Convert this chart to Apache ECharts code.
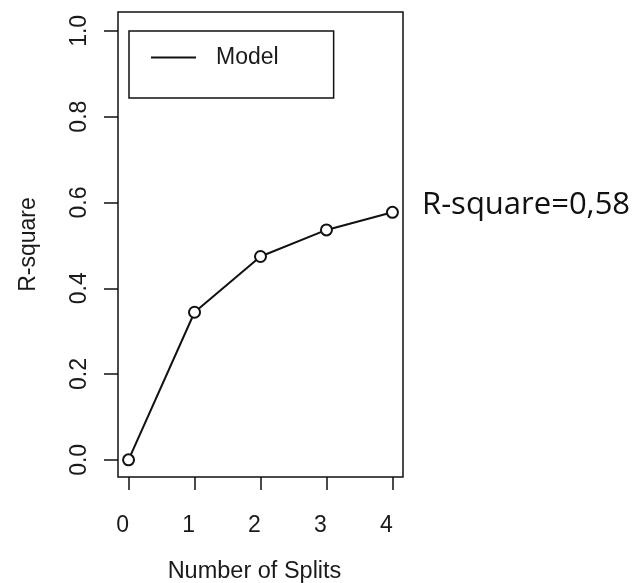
<!DOCTYPE html>
<html>
<head>
<meta charset="utf-8">
<script src="https://cdn.jsdelivr.net/npm/echarts@6/dist/echarts.min.js"></script>
<style>
    html, body { margin: 0; padding: 0; background: #fff; }
    #chart { width: 637px; height: 583px; }
</style>
</head>
<body>
<div id="chart"></div>
<script>
// data
var splits = [0, 1, 2, 3, 4];
var rsquare = [0.0, 0.344, 0.474, 0.536, 0.577];
var xTicks = [0, 1, 2, 3, 4];
var yTicks = [0, 0.2, 0.4, 0.6, 0.8, 1.0];
var seriesName = 'Model';
var note = 'R-square=0,58';

var fontFamily = '"Liberation Sans", Arial, sans-serif';

var chart = echarts.init(document.getElementById('chart'));

var points = splits.map(function (s, i) { return [s, rsquare[i]]; });

var option = {
    backgroundColor: '#fff',
    animation: false,
    grid: {
        left: 118,
        right: 234,
        top: 12,
        bottom: 106,
        outerBoundsMode: 'none',
        containLabel: false,
        show: true,
        borderColor: '#111',
        borderWidth: 1.5,
        backgroundColor: 'transparent'
    },
    legend: {
        left: 129,
        top: 31,
        orient: 'vertical',
        padding: [15, 55, 29, 22],
        borderColor: '#111',
        borderWidth: 1.5,
        borderRadius: 0,
        itemWidth: 45,
        itemHeight: 2,
        icon: 'rect',
        textStyle: {
            fontFamily: fontFamily,
            fontSize: 23,
            color: '#1a1a1a',
            padding: [0, 0, 0, 15]
        },
        data: [seriesName]
    },
    xAxis: {
        type: 'value',
        min: -0.16,
        max: 4.16,
        name: 'Number of Splits',
        nameLocation: 'middle',
        nameGap: 83,
        nameTextStyle: { fontFamily: fontFamily, fontSize: 23.5, color: '#1a1a1a', padding: [0, 12, 0, 0] },
        axisLine: { show: false, onZero: false },
        splitLine: { show: false },
        axisTick: {
            show: true,
            length: 13,
            customValues: xTicks,
            lineStyle: { color: '#111', width: 1.5 }
        },
        axisLabel: {
            customValues: xTicks,
            margin: 37,
            fontFamily: fontFamily,
            fontSize: 23,
            color: '#1a1a1a',
            padding: [0, 12, 0, 0]
        }
    },
    yAxis: {
        type: 'value',
        min: -0.04,
        max: 1.044,
        name: 'R-square',
        nameLocation: 'middle',
        nameGap: 78,
        nameTextStyle: { fontFamily: fontFamily, fontSize: 23, color: '#1a1a1a' },
        axisLine: { show: false, onZero: false },
        splitLine: { show: false },
        axisTick: {
            show: true,
            length: 14,
            customValues: yTicks,
            lineStyle: { color: '#111', width: 1.5 }
        },
        axisLabel: {
            customValues: yTicks,
            rotate: 90,
            margin: 27,
            fontFamily: fontFamily,
            fontSize: 23,
            color: '#1a1a1a',
            formatter: function (v) { return v.toFixed(1); }
        }
    },
    graphic: [{
        type: 'text',
        left: 422,
        top: 190,
        style: {
            text: note,
            font: '31px "Open Sans", Lato, sans-serif',
            fill: '#111'
        }
    }],
    series: [{
        name: seriesName,
        type: 'line',
        data: points,
        symbol: 'emptyCircle',
        symbolSize: 11,
        lineStyle: { color: '#111', width: 2 },
        itemStyle: { color: '#111', borderWidth: 1.5 }
    }]
};

chart.setOption(option);
</script>
</body>
</html>
